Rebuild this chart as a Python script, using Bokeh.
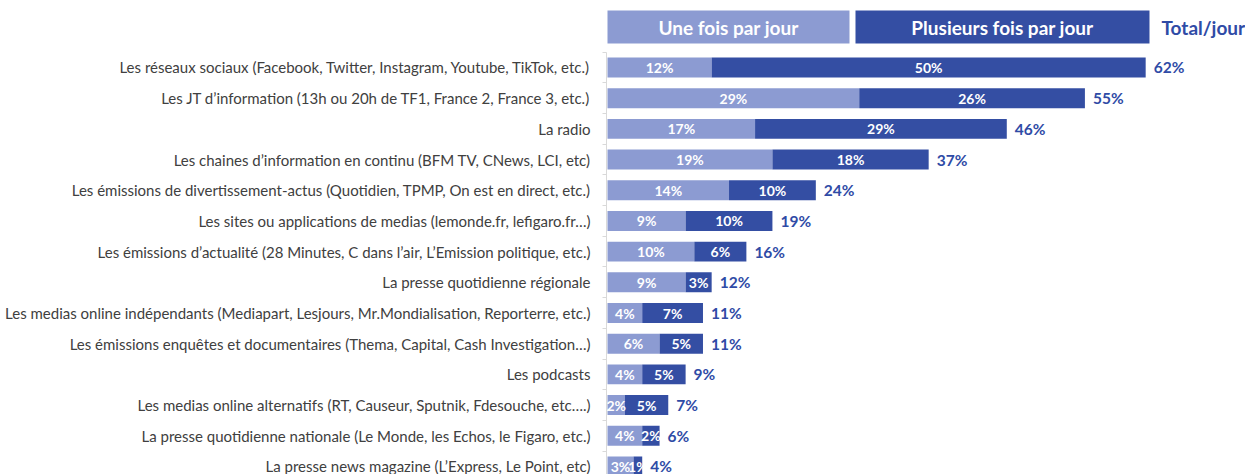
from bokeh.plotting import figure
from bokeh.models import ColumnDataSource, Range1d, FixedTicker
from bokeh.embed import file_html
from bokeh.resources import INLINE
from bokeh.core.properties import value

categories = [
    "Les réseaux sociaux (Facebook, Twitter, Instagram, Youtube, TikTok, etc.)",
    "Les JT d’information (13h ou 20h de TF1, France 2, France 3, etc.)",
    "La radio",
    "Les chaines d’information en continu (BFM TV, CNews, LCI, etc)",
    "Les émissions de divertissement-actus (Quotidien, TPMP, On est en direct, etc.)",
    "Les sites ou applications de medias (lemonde.fr, lefigaro.fr…)",
    "Les émissions d’actualité (28 Minutes, C dans l’air, L’Emission politique, etc.)",
    "La presse quotidienne régionale",
    "Les medias online indépendants (Mediapart, Lesjours, Mr.Mondialisation, Reporterre, etc.)",
    "Les émissions enquêtes et documentaires (Thema, Capital, Cash Investigation…)",
    "Les podcasts",
    "Les medias online alternatifs (RT, Causeur, Sputnik, Fdesouche, etc….)",
    "La presse quotidienne nationale (Le Monde, les Echos, le Figaro, etc.)",
    "La presse news magazine (L’Express, Le Point, etc)",
]
une_fois = [12, 29, 17, 19, 14, 9, 10, 9, 4, 6, 4, 2, 4, 3]
plusieurs_fois = [50, 26, 29, 18, 10, 10, 6, 3, 7, 5, 5, 5, 2, 1]
total_jour = [62, 55, 46, 37, 24, 19, 16, 12, 11, 11, 9, 7, 6, 4]
series_names = ["Une fois par jour", "Plusieurs fois par jour"]
total_title = "Total/jour"

LIGHT = "#8c9bd2"
DARK = "#344ea3"
BLUE_TXT = "#2f4ba6"
FONT = "Lato"

n = len(categories)
ys = list(range(n))
cum = [a + b for a, b in zip(une_fois, plusieurs_fois)]
src = ColumnDataSource(dict(
    y=ys,
    une=une_fois,
    cum=cum,
    mid1=[a / 2 for a in une_fois],
    mid2=[a + b / 2 for a, b in zip(une_fois, plusieurs_fois)],
    lab1=[f"{v}%" for v in une_fois],
    lab2=[f"{v}%" for v in plusieurs_fois],
    labt=[f"{v}%" for v in total_jour],
))

p = figure(width=1245, height=474, output_backend="svg", toolbar_location=None,
           x_range=Range1d(-0.115, 73.5), y_range=Range1d(13.262, -2.183),
           min_border_left=606, min_border_right=0, min_border_top=0, min_border_bottom=0)
p.xaxis.visible = False
p.grid.visible = False
p.outline_line_color = None
p.background_fill_color = "white"

BAR_H = 0.65
p.hbar(y="y", left=0, right="une", height=BAR_H, fill_color=LIGHT, line_color=None, source=src)
p.hbar(y="y", left="une", right="cum", height=BAR_H, fill_color=DARK, line_color=None, source=src)

p.text(x="mid1", y="y", text="lab1", source=src, text_align="center", text_baseline="middle",
       text_color="white", text_font=value(FONT), text_font_size="14px", text_font_style="bold")
p.text(x="mid2", y="y", text="lab2", source=src, text_align="center", text_baseline="middle",
       text_color="white", text_font=value(FONT), text_font_size="14px", text_font_style="bold")
p.text(x="cum", y="y", text="labt", source=src, x_offset=8, text_align="left", text_baseline="middle",
       text_color=BLUE_TXT, text_font=value(FONT), text_font_size="15.5px", text_font_style="bold")

# header boxes (legend)
hdr_y0, hdr_y1 = -1.857, -0.782
hdr = ColumnDataSource(dict(left=[0.0, 28.57], right=[27.88, 62.44], col=[LIGHT, DARK],
                            cx=[13.94, 45.5], txt=series_names))
p.quad(left="left", right="right", top=hdr_y0, bottom=hdr_y1, fill_color="col", line_color=None, source=hdr)
p.text(x="cx", y=(hdr_y0 + hdr_y1) / 2, text="txt", source=hdr, text_align="center", text_baseline="middle",
       text_color="white", text_font=value(FONT), text_font_size="19px", text_font_style="bold")
p.text(x=[63.82], y=[(hdr_y0 + hdr_y1) / 2], text=[total_title], text_align="left", text_baseline="middle",
       text_color=BLUE_TXT, text_font=value(FONT), text_font_size="19px", text_font_style="bold")

ax = p.yaxis[0]
ax.ticker = FixedTicker(ticks=ys, minor_ticks=[i - 0.5 for i in range(n + 1)])
ax.major_label_overrides = {i: c for i, c in enumerate(categories)}
ax.bounds = (-0.5, n - 0.5)
ax.axis_line_color = "#d9d9d9"
ax.major_tick_line_color = None
ax.major_tick_out = 0
ax.major_tick_in = 0
ax.minor_tick_line_color = "#d9d9d9"
ax.minor_tick_out = 4
ax.minor_tick_in = 0
ax.major_label_standoff = 12
ax.major_label_text_font = FONT
ax.major_label_text_font_size = "15px"
ax.major_label_text_color = "#404040"

open("out.html", "w").write(file_html(p, INLINE))
